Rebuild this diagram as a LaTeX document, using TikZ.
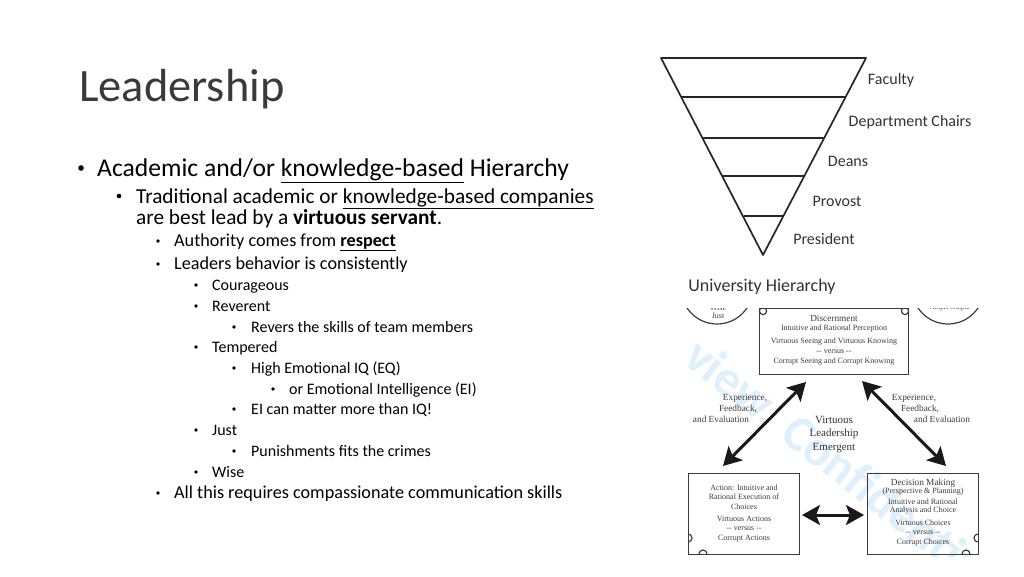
\documentclass[tikz,border=0pt]{standalone}
\usepackage{fontspec}
\setmainfont{Carlito}
\newfontfamily\serifdiag{Liberation Serif}
\usetikzlibrary{arrows.meta}
\definecolor{inkgray}{HTML}{3A3A3A}
\definecolor{labelgray}{HTML}{333333}
\definecolor{diaggray}{HTML}{3C3C3C}
\definecolor{wmblue}{HTML}{DDF0FB}
\tikzset{
  x=1pt,y=-1pt,
  title/.style={anchor=base west,font=\fontsize{46.4}{46.4}\selectfont,text=inkgray,inner sep=0pt},
  lone/.style={anchor=base west,font=\fontsize{25.6}{25.6}\selectfont,text=black,inner sep=0pt},
  ltwo/.style={anchor=base west,font=\fontsize{21.3}{21.3}\selectfont,text=black,inner sep=0pt},
  lthree/.style={anchor=base west,font=\fontsize{18.2}{18.2}\selectfont,text=black,inner sep=0pt},
  lrest/.style={anchor=base west,font=\fontsize{16}{16}\selectfont,text=black,inner sep=0pt},
  pyr/.style={draw=black!85,line width=1.7pt,line join=round},
  pyrlabel/.style={font=\fontsize{16}{16}\selectfont,text=labelgray,inner sep=0pt},
  diagbox/.style={draw=diaggray,line width=1.3pt,inner sep=0pt},
  dtext/.style={font=\serifdiag\fontsize{8}{8}\selectfont,text=diaggray,inner sep=0pt},
  dwide/.style={font=\serifdiag\fontsize{9.3}{9.3}\selectfont,text=diaggray,inner sep=0pt},
  dbig/.style={font=\serifdiag\fontsize{11}{11}\selectfont,text=black!80,inner sep=0pt},
  bigarrow/.style={line width=3pt,draw=black!90,{Stealth[length=18pt,width=20pt,inset=4pt]}-{Stealth[length=18pt,width=20pt,inset=4pt]}},
  minor/.style={draw=diaggray,line width=1.2pt},
}
\begin{document}
\begin{tikzpicture}
\useasboundingbox (0,0) rectangle (1024,576);
\fill[white] (0,0) rectangle (1024,576);
\node[title] (t) at (79,101) {Leadership};
% bullets
\fill (81,168) circle (2.8);
\fill (119,196) circle (2.3);
\foreach \x/\y in {158/241,158/264,196/285,196/306,234/327,196/347,234/368,273/389,234/409,196/430,234/451,196/472,158/493}
  \fill (\x,\y) circle (1.9);
\node[lone] (l1) at (97,176) {Academic and/or \underline{knowledge-based} Hierarchy};
\node[ltwo] (l2a) at (136,203) {Traditional academic or \underline{knowledge-based companies}};
\node[ltwo] (l2b) at (136,224) {are best lead by a \textbf{virtuous servant}.};
\node[lthree] (l3a) at (174,246) {Authority comes from \underline{\textbf{respect}}};
\node[lthree] (l3b) at (174,269) {Leaders behavior is consistently};
\node[lrest] (l4a) at (212,290) {Courageous};
\node[lrest] (l4b) at (212,311) {Reverent};
\node[lrest] (l5a) at (251,332) {Revers the skills of team members};
\node[lrest] (l4c) at (212,352) {Tempered};
\node[lrest] (l5b) at (251,373) {High Emotional IQ (EQ)};
\node[lrest] (l6a) at (289,394) {or Emotional Intelligence (EI)};
\node[lrest] (l5c) at (251,414) {EI can matter more than IQ!};
\node[lrest] (l4d) at (212,435) {Just};
\node[lrest] (l5d) at (251,456) {Punishments fits the crimes};
\node[lrest] (l4e) at (212,477) {Wise};
\node[lthree] (l3c) at (174,498) {All this requires compassionate communication skills};
% pyramid
\draw[pyr] (661,58) -- (866,58) -- (763,255) -- cycle;
\draw[pyr] (682,97) -- (845,97);
\draw[pyr] (703,138) -- (824,138);
\draw[pyr] (722,176) -- (805,176);
\draw[pyr] (744,216) -- (783,216);
\node[pyrlabel] (pf) at (891,80) {Faculty};
\node[pyrlabel] (pd) at (910,122) {Department Chairs};
\node[pyrlabel] (pe) at (848,161) {Deans};
\node[pyrlabel] (pp) at (837,201) {Provost};
\node[pyrlabel] (pr) at (824,239) {President};
\node[pyrlabel,font=\fontsize{18}{18}\selectfont] (ph) at (762,287) {University Hierarchy};
% lower diagram
\begin{scope}
\clip (686,308) rectangle (980,556);
\node[rotate=-38,font=\fontsize{50}{50}\selectfont\bfseries,text=wmblue,anchor=center] (wm) at (840,464) {view. Confidential};
\draw[minor] (717,288) circle (36);
\draw[minor] (948,288) circle (36);
\node[dtext] (wise1) at (718,308) {Wise};
\node[dtext,font=\serifdiag\fontsize{7}{7}\selectfont] (ample) at (950,308) {Ample Output};
\node[diagbox,minimum width=149pt,minimum height=66pt,anchor=north west] (disc) at (759,308) {};
\node[diagbox,minimum width=111pt,minimum height=81pt,anchor=north west] (act) at (688,473) {};
\node[diagbox,minimum width=111pt,minimum height=81pt,anchor=north west] (dec) at (867,473) {};
\draw[minor] (763,311) circle (3.6);
\draw[minor] (905,311) circle (3.6);
\end{scope}
\begin{scope}
\clip (688,473) rectangle (799,554);
\draw[minor] (688,538) circle (4);
\draw[minor] (703,554) circle (4);
\end{scope}
\begin{scope}
\clip (867,473) rectangle (978,554);
\draw[minor] (978,538) circle (4);
\draw[minor] (966,554) circle (4);
\end{scope}
\node[dtext] (wise2) at (718,316) {Just};
\node[dwide] at (834,318) {Discernment};
\node[dtext] at (834,329) {Intuitive and Rational  Perception};
\node[dtext] at (834,342) {Virtuous Seeing and Virtuous Knowing};
\node[dtext] at (834,352) {-- versus --};
\node[dtext] at (834,362) {Corrupt Seeing and Corrupt Knowing};
\node[dwide] at (745,398) {Experience,};
\node[dwide] at (738,409) {Feedback,};
\node[dwide] at (721,419) {and Evaluation};
\node[dwide] at (914,398) {Experience,};
\node[dwide] at (920,409) {Feedback,};
\node[dwide] at (942,419) {and Evaluation};
\node[dbig] at (834,420) {Virtuous};
\node[dbig] at (834,434) {Leadership};
\node[dbig] at (834,448) {Emergent};
\node[dtext] at (744,488) {Action: Intuitive and};
\node[dtext] at (744,497) {Rational Execution of};
\node[dtext] at (744,507) {Choices};
\node[dtext] at (744,519) {Virtuous Actions};
\node[dtext] at (744,529) {-- versus --};
\node[dtext] at (744,539) {Corrupt Actions};
\node[dwide] at (923,483) {Decision  Making};
\node[dtext] at (923,492) {(Perspective \& Planning)};
\node[dtext] at (923,502) {Intuitive and Rational};
\node[dtext] at (923,511) {Analysis and Choice};
\node[dtext] at (923,523) {Virtuous Choices};
\node[dtext] at (923,533) {-- versus --};
\node[dtext] at (923,543) {Corrupt Choices};
\coordinate (da) at (806,382);
\coordinate (ad) at (723,466);
\coordinate (db) at (862,381);
\coordinate (bd) at (946,466);
\coordinate (ah) at (802,515);
\coordinate (bh) at (864,515);
\draw[bigarrow] (da) -- (ad);
\draw[bigarrow] (db) -- (bd);
\draw[bigarrow] (ah) -- (bh);
\end{tikzpicture}
\end{document}
